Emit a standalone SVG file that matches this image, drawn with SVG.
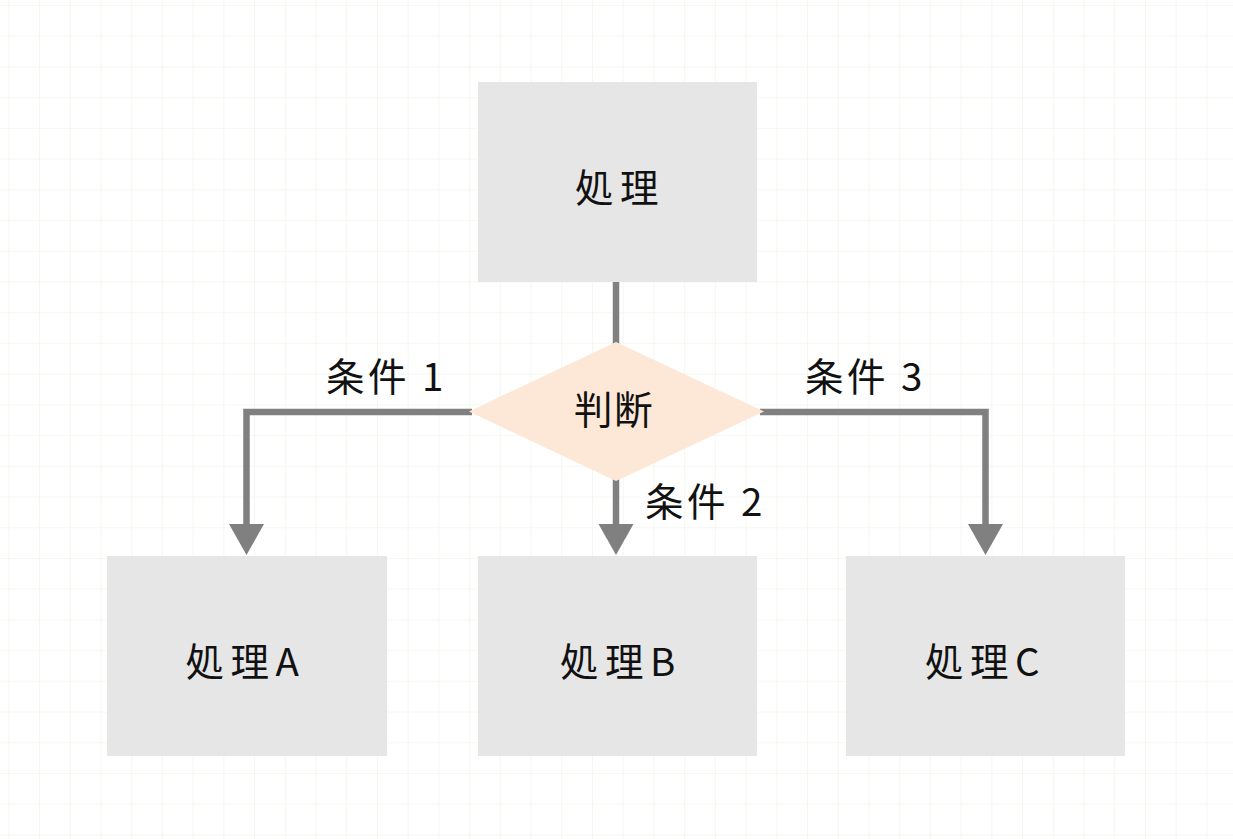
<svg xmlns="http://www.w3.org/2000/svg" width="1233" height="839" viewBox="0 0 1233 839">
<defs>
<pattern id="grid" x="8.3" y="5" width="30.72" height="30.72" patternUnits="userSpaceOnUse">
<path d="M0 0H30.72M0 0V30.72" fill="none" stroke="#eef2e4" stroke-width="1.2"/>
</pattern>
</defs>
<style>
.box{fill:#e6e6e6}
.dia{fill:#fde8d7}
.t{font-family:"Noto Sans CJK JP","Noto Sans",sans-serif;font-size:38.5px;fill:#111;dominant-baseline:central}
.n{letter-spacing:6.5px}
.l{letter-spacing:3.5px}
.ln{fill:none;stroke:#808080;stroke-width:6.5}
.ah{fill:#808080}
</style>
<rect width="1233" height="839" fill="#ffffff"/>
<rect width="1233" height="839" fill="url(#grid)"/>
<g id="connectors">
<path class="ln" d="M616 282V345"/>
<path class="ln" d="M472 412H246.5V524"/>
<path class="ah" d="M229 524L264 524L246.5 555Z"/>
<path class="ln" d="M616 478V524"/>
<path class="ah" d="M598.5 524L633.5 524L616 555Z"/>
<path class="ln" d="M760 412H985.5V524"/>
<path class="ah" d="M968 524L1003 524L985.5 555Z"/>
</g>
<g id="node-top"><rect class="box" x="478" y="82" width="279" height="200"/><text class="t n" x="575" y="185">処理</text></g>
<g id="node-decision"><path class="dia" d="M616 342L764 411.5L616 481L469 411.5Z"/><text class="t" x="574" y="407" style="letter-spacing:1.5px">判断</text></g>
<g id="node-a"><rect class="box" x="107" y="556" width="280" height="200"/><text class="t n" x="185.5" y="659">処理A</text></g>
<g id="node-b"><rect class="box" x="478" y="556" width="279" height="200"/><text class="t n" x="560" y="659">処理B</text></g>
<g id="node-c"><rect class="box" x="846" y="556" width="279" height="200"/><text class="t n" x="925" y="659">処理C</text></g>
<g id="labels">
<text class="t l" x="326" y="374">条件 1</text>
<text class="t l" x="645" y="499">条件 2</text>
<text class="t l" x="805" y="374">条件 3</text>
</g>
</svg>
